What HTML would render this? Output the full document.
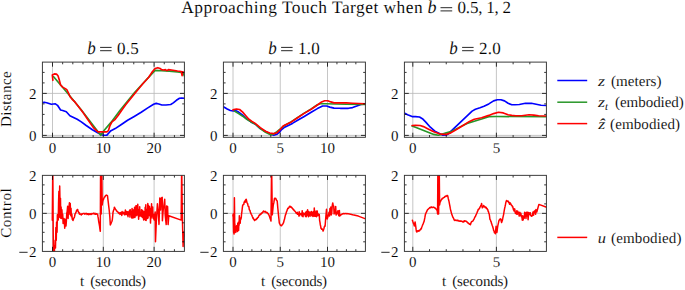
<!DOCTYPE html><html><head><meta charset="utf-8"><style>html,body{margin:0;padding:0;background:#fff;}svg{display:block;}text{font-family:"Liberation Serif",serif;fill:#000;text-rendering:geometricPrecision;stroke:#fff;stroke-width:0.1px;}</style></head><body>
<svg width="685" height="290" viewBox="0 0 685 290">
<rect width="685" height="290" fill="#fff"/>
<clipPath id="ct0"><rect x="42.4" y="62.1" width="142.0" height="75.20000000000002"/></clipPath>
<clipPath id="cb0"><rect x="42.4" y="175.35" width="142.0" height="76.05000000000001"/></clipPath>
<clipPath id="ct1"><rect x="223.4" y="62.1" width="141.99999999999997" height="75.20000000000002"/></clipPath>
<clipPath id="cb1"><rect x="223.4" y="175.35" width="141.99999999999997" height="76.05000000000001"/></clipPath>
<clipPath id="ct2"><rect x="404.4" y="62.1" width="142.0" height="75.20000000000002"/></clipPath>
<clipPath id="cb2"><rect x="404.4" y="175.35" width="142.0" height="76.05000000000001"/></clipPath>
<line x1="52.50" y1="62.1" x2="52.50" y2="137.3" stroke="#b8b8b8" stroke-width="0.8"/>
<line x1="103.30" y1="62.1" x2="103.30" y2="137.3" stroke="#b8b8b8" stroke-width="0.8"/>
<line x1="154.10" y1="62.1" x2="154.10" y2="137.3" stroke="#b8b8b8" stroke-width="0.8"/>
<line x1="42.4" y1="135.40" x2="184.4" y2="135.40" stroke="#b8b8b8" stroke-width="0.8"/>
<line x1="42.4" y1="93.40" x2="184.4" y2="93.40" stroke="#b8b8b8" stroke-width="0.8"/>
<line x1="52.50" y1="175.35" x2="52.50" y2="251.4" stroke="#b8b8b8" stroke-width="0.8"/>
<line x1="103.30" y1="175.35" x2="103.30" y2="251.4" stroke="#b8b8b8" stroke-width="0.8"/>
<line x1="154.10" y1="175.35" x2="154.10" y2="251.4" stroke="#b8b8b8" stroke-width="0.8"/>
<line x1="42.4" y1="213.35" x2="184.4" y2="213.35" stroke="#b8b8b8" stroke-width="0.8"/>
<line x1="233.00" y1="62.1" x2="233.00" y2="137.3" stroke="#b8b8b8" stroke-width="0.8"/>
<line x1="280.25" y1="62.1" x2="280.25" y2="137.3" stroke="#b8b8b8" stroke-width="0.8"/>
<line x1="327.50" y1="62.1" x2="327.50" y2="137.3" stroke="#b8b8b8" stroke-width="0.8"/>
<line x1="223.4" y1="135.40" x2="365.4" y2="135.40" stroke="#b8b8b8" stroke-width="0.8"/>
<line x1="223.4" y1="93.40" x2="365.4" y2="93.40" stroke="#b8b8b8" stroke-width="0.8"/>
<line x1="233.00" y1="175.35" x2="233.00" y2="251.4" stroke="#b8b8b8" stroke-width="0.8"/>
<line x1="280.25" y1="175.35" x2="280.25" y2="251.4" stroke="#b8b8b8" stroke-width="0.8"/>
<line x1="327.50" y1="175.35" x2="327.50" y2="251.4" stroke="#b8b8b8" stroke-width="0.8"/>
<line x1="223.4" y1="213.35" x2="365.4" y2="213.35" stroke="#b8b8b8" stroke-width="0.8"/>
<line x1="412.80" y1="62.1" x2="412.80" y2="137.3" stroke="#b8b8b8" stroke-width="0.8"/>
<line x1="496.40" y1="62.1" x2="496.40" y2="137.3" stroke="#b8b8b8" stroke-width="0.8"/>
<line x1="404.4" y1="135.40" x2="546.4" y2="135.40" stroke="#b8b8b8" stroke-width="0.8"/>
<line x1="404.4" y1="93.40" x2="546.4" y2="93.40" stroke="#b8b8b8" stroke-width="0.8"/>
<line x1="412.80" y1="175.35" x2="412.80" y2="251.4" stroke="#b8b8b8" stroke-width="0.8"/>
<line x1="496.40" y1="175.35" x2="496.40" y2="251.4" stroke="#b8b8b8" stroke-width="0.8"/>
<line x1="404.4" y1="213.35" x2="546.4" y2="213.35" stroke="#b8b8b8" stroke-width="0.8"/>
<polyline clip-path="url(#ct0)" points="42.40,102.80 44.10,102.20 46.70,102.80 51.30,104.30 55.40,103.80 57.50,105.30 60.60,110.00 62.70,110.50 66.30,111.80 69.90,115.70 73.00,117.20 77.20,119.30 81.30,121.90 86.20,125.50 92.40,129.70 98.60,133.30 101.70,134.80 103.80,135.30 106.90,135.10 109.50,132.20 111.00,130.70 115.20,128.60 121.40,124.50 127.60,120.30 133.80,116.70 141.20,112.20 147.40,108.10 153.60,104.30 156.20,103.40 158.80,104.00 161.90,105.00 166.00,105.00 170.70,104.50 173.30,102.90 176.40,100.30 179.50,98.30 181.50,98.00 184.60,98.30" fill="none" stroke="#0000ff" stroke-width="1.65" stroke-linejoin="round" stroke-linecap="round"/>
<polyline clip-path="url(#ct0)" points="53.60,76.70 68.90,94.80 81.00,109.50 100.70,135.30 103.80,130.70 111.00,122.40 120.30,110.00 134.80,92.20 155.10,70.40 161.60,70.70 169.20,71.10 177.50,71.90 182.80,72.60 184.40,76.00" fill="none" stroke="#289628" stroke-width="1.65" stroke-linejoin="round" stroke-linecap="round"/>
<polyline clip-path="url(#ct0)" points="52.90,80.30 52.30,75.00 54.40,73.90 56.50,74.10 58.00,75.70 59.10,79.30 60.60,85.00 62.70,87.10 65.30,88.60 66.80,89.70 68.40,92.80 69.90,96.40 72.00,99.10 75.10,102.20 83.40,113.10 88.30,120.30 93.40,127.60 97.60,131.70 98.60,131.90 106.90,131.90 108.40,130.70 110.00,125.50 112.00,121.90 115.20,119.30 118.30,115.20 121.90,110.00 125.50,105.00 134.80,93.60 142.60,84.00 148.70,77.20 151.70,72.60 155.10,68.50 157.80,67.70 160.10,68.50 161.60,69.60 163.90,70.00 165.40,69.60 166.90,70.70 168.40,69.60 173.00,70.20 177.50,71.00 181.30,71.50 182.10,75.70 182.50,71.80 183.60,72.30 184.60,72.50" fill="none" stroke="#ff0000" stroke-width="1.65" stroke-linejoin="round" stroke-linecap="round"/>
<polyline clip-path="url(#ct1)" points="223.40,106.70 227.20,109.00 230.30,110.50 233.40,111.00 235.40,110.50 238.60,112.10 242.70,115.20 246.80,118.80 251.00,121.90 255.10,124.00 260.30,128.60 265.50,131.50 270.70,134.30 273.80,135.30 276.90,134.30 279.50,132.20 281.00,130.20 284.10,127.60 288.30,125.50 292.40,123.40 297.60,120.30 303.80,116.70 311.20,112.20 317.40,108.60 322.60,106.00 326.70,106.00 329.80,107.10 334.00,108.10 340.20,108.30 348.50,108.30 352.60,107.60 356.80,106.00 360.90,104.50 365.60,104.00" fill="none" stroke="#0000ff" stroke-width="1.65" stroke-linejoin="round" stroke-linecap="round"/>
<polyline clip-path="url(#ct1)" points="234.40,111.00 238.60,113.60 242.70,116.20 246.80,119.30 251.00,121.90 255.10,124.00 260.30,128.60 265.50,132.20 270.70,134.80 273.80,134.00 276.90,131.70 281.00,128.40 284.10,125.80 291.40,121.60 303.80,113.40 311.20,108.90 317.40,104.80 320.50,103.80 325.70,103.70 336.00,104.00 346.40,104.20 365.60,104.50" fill="none" stroke="#289628" stroke-width="1.65" stroke-linejoin="round" stroke-linecap="round"/>
<polyline clip-path="url(#ct1)" points="232.90,110.00 233.90,109.50 236.50,109.00 239.60,109.50 242.70,112.10 245.80,115.70 248.90,119.30 252.00,121.40 255.20,123.40 260.30,127.60 265.50,131.20 269.70,133.00 273.80,133.60 276.90,132.80 280.00,129.70 283.10,126.00 287.20,124.00 291.40,121.90 297.60,117.80 303.80,113.60 311.20,109.20 317.40,105.00 321.60,101.90 324.70,100.70 327.80,100.70 330.90,101.90 334.00,102.90 339.20,102.90 346.40,102.90 352.60,103.20 358.80,103.50 365.60,103.80" fill="none" stroke="#ff0000" stroke-width="1.65" stroke-linejoin="round" stroke-linecap="round"/>
<polyline clip-path="url(#ct2)" points="404.20,113.00 407.60,114.70 412.10,116.60 415.50,116.60 419.50,117.00 422.40,118.70 425.80,122.10 430.30,127.20 434.90,131.20 439.40,133.50 442.90,135.20 446.30,134.90 448.20,133.90 472.10,111.10 475.40,109.20 480.00,107.80 484.00,106.30 488.80,103.90 493.60,100.90 497.30,99.70 500.90,99.70 504.50,100.90 508.10,103.30 511.80,104.70 515.00,104.70 519.30,104.50 525.40,103.30 531.40,103.30 536.20,104.30 541.10,105.30 546.60,105.50" fill="none" stroke="#0000ff" stroke-width="1.65" stroke-linejoin="round" stroke-linecap="round"/>
<polyline clip-path="url(#ct2)" points="412.10,126.10 416.70,127.80 422.40,130.10 428.10,132.30 433.80,134.40 438.30,135.20 441.70,134.40 446.30,132.90 452.00,131.20 457.70,128.30 463.00,125.40 467.10,123.40 474.30,121.20 481.60,119.00 488.80,116.60 496.10,116.50 546.60,116.70" fill="none" stroke="#289628" stroke-width="1.65" stroke-linejoin="round" stroke-linecap="round"/>
<polyline clip-path="url(#ct2)" points="412.10,125.50 415.50,125.30 420.10,125.50 423.50,126.60 428.10,128.90 433.80,131.80 439.40,133.70 442.90,134.40 446.30,134.40 450.80,132.90 456.50,129.50 463.00,125.50 469.50,121.40 474.30,119.20 481.60,117.80 488.80,115.40 493.60,113.60 498.50,112.30 503.30,112.90 508.10,114.80 511.80,115.40 515.70,115.70 521.70,115.70 529.00,114.80 533.80,115.10 538.60,115.70 546.60,116.00" fill="none" stroke="#ff0000" stroke-width="1.65" stroke-linejoin="round" stroke-linecap="round"/>
<polyline clip-path="url(#cb0)" points="52.30,220.30 52.80,165.00 53.40,262.00 54.40,262.00 54.50,245.66 54.82,246.98 55.11,240.26 55.48,248.03 55.88,227.42 56.27,240.25 56.57,221.94 57.05,232.24 57.38,214.72 57.89,218.35 58.26,219.97 58.55,203.17 58.90,191.36 59.21,217.61 59.69,186.08 60.11,207.39 60.48,198.36 60.77,218.31 61.10,206.88 61.48,218.44 61.91,209.82 62.26,216.28 62.70,214.28 63.12,223.48 63.61,221.28 63.96,218.55 64.27,219.55 64.73,228.27 65.13,219.37 65.57,223.30 65.99,225.93 66.34,221.64 66.77,213.17 67.15,211.60 67.66,206.29 68.10,218.52 68.55,206.80 69.07,206.58 69.42,202.75 69.86,214.28 70.25,203.45 70.56,215.13 71.02,208.28 71.36,216.65 71.85,214.12 72.24,219.18 72.73,219.99 73.00,220.50 73.33,219.39 73.67,218.39 74.00,217.91 74.30,217.49 74.60,216.38 74.90,214.71 75.20,213.58 75.50,213.50 75.82,212.50 76.13,212.07 76.45,210.76 76.77,210.14 77.08,210.31 77.40,209.41 77.72,209.65 78.03,211.36 78.35,211.66 78.67,212.53 78.98,212.33 79.30,213.93 79.64,213.20 79.98,214.31 80.32,214.05 80.66,214.13 81.00,214.55 81.30,214.87 81.60,214.12 81.90,213.90 82.20,214.25 82.50,213.86 82.80,213.64 83.10,213.62 83.40,213.42 83.70,213.52 84.00,213.57 84.31,213.60 84.62,214.17 84.92,213.64 85.23,213.92 85.54,213.57 85.85,213.80 86.15,213.44 86.46,213.75 86.77,213.50 87.08,214.39 87.38,214.20 87.69,213.80 88.00,214.17 88.31,214.68 88.62,213.65 88.92,214.47 89.23,213.96 89.54,214.00 89.85,214.37 90.15,213.80 90.46,213.90 90.77,214.08 91.08,214.39 91.38,213.59 91.69,214.14 92.00,213.95 92.31,213.88 92.62,213.62 92.92,213.56 93.23,213.23 93.54,213.33 93.85,213.28 94.15,214.10 94.46,213.53 94.77,213.43 95.08,213.36 95.38,214.28 95.69,214.33 96.00,214.10 96.32,213.77 96.64,213.85 96.96,214.04 97.28,214.34 97.60,214.16 97.93,216.38 98.27,218.13 98.60,220.76 98.90,222.67 99.20,224.15 99.50,225.74 99.90,228.88 100.30,231.30 100.60,165.00 101.20,214.00 101.70,165.00 102.20,205.00 102.70,201.46 103.03,200.20 103.35,199.68 103.67,198.87 104.00,198.00 104.35,197.27 104.70,197.14 105.05,196.20 105.40,196.03 105.75,195.42 106.10,195.30 106.45,195.09 106.80,195.22 107.15,195.65 107.50,195.73 107.85,198.89 108.20,201.63 108.53,204.65 108.87,207.36 109.20,210.22 109.80,216.38 110.30,224.99 110.63,224.06 110.97,223.85 111.30,222.15 111.63,221.99 111.97,221.18 112.30,219.84 112.65,216.49 113.00,212.39 113.35,211.00 113.70,209.98 114.05,208.94 114.40,207.14 114.70,207.92 115.00,208.30 115.30,209.03 115.60,209.40 115.90,209.83 116.22,210.07 116.53,210.89 116.85,211.15 117.17,211.65 117.48,211.60 117.80,211.84 118.10,212.26 118.40,212.83 118.60,212.80 118.88,213.46 119.25,212.98 119.49,213.20 119.74,212.94 120.04,214.39 120.30,212.74 120.58,213.68 120.89,212.55 121.23,214.13 121.55,212.22 121.77,215.55 122.12,211.57 122.47,213.74 122.76,212.45 123.08,212.78 123.30,212.23 123.54,213.69 123.76,212.72 124.00,213.00 124.27,212.73 124.64,214.80 124.88,212.04 125.15,214.00 125.38,210.11 125.77,214.49 126.07,212.85 126.30,214.14 126.55,211.38 126.79,213.14 127.17,211.92 127.41,215.16 127.63,211.83 128.01,216.75 128.35,212.55 128.62,213.84 128.97,211.52 129.32,214.59 129.57,210.13 129.96,217.12 130.31,209.80 130.66,214.33 130.96,212.02 131.18,213.65 131.44,212.48 131.77,217.97 132.06,208.38 132.45,218.08 132.73,212.67 132.98,214.49 133.22,210.07 133.59,217.69 133.89,209.70 134.25,214.19 134.57,207.30 134.92,217.44 135.22,212.92 135.57,215.42 135.93,205.73 136.21,215.82 136.59,207.78 136.83,214.64 137.07,205.58 137.42,214.78 137.78,204.19 138.11,215.79 138.42,213.34 138.63,219.14 138.96,209.61 139.34,216.34 139.70,206.84 139.95,215.52 140.21,212.74 140.53,215.66 140.81,213.74 141.19,216.28 141.48,209.69 141.85,216.81 142.23,210.13 142.53,217.61 142.75,210.57 142.99,214.81 143.34,213.30 143.64,219.88 143.95,211.84 144.25,219.13 144.60,214.17 144.91,216.88 145.17,207.37 145.48,220.32 145.82,204.85 146.11,220.59 146.41,209.35 146.75,218.06 147.05,209.58 147.43,218.47 147.80,203.57 148.06,218.03 148.44,205.28 148.67,215.61 148.96,214.43 149.22,215.39 149.55,206.49 149.92,216.05 150.26,208.14 150.49,223.10 150.88,213.04 151.26,217.89 151.56,203.78 151.92,215.91 152.20,209.63 152.47,216.03 152.74,207.00 152.95,218.07 153.24,214.88 153.51,218.64 153.82,214.52 154.20,220.02 154.59,214.27 154.85,215.17 155.20,212.00 155.50,241.70 156.30,222.00 157.40,203.70 158.30,213.00 159.00,224.40 159.80,197.90 160.60,210.00 161.30,198.00 162.20,197.40 162.40,220.80 163.20,210.00 164.70,199.30 165.20,215.00 166.20,224.60 166.60,206.00 167.60,206.60 168.10,224.60 168.80,215.70 181.20,220.10 181.70,165.00 182.30,214.00 182.70,230.50 183.10,246.50 183.60,232.00 184.60,236.00" fill="none" stroke="#ff0000" stroke-width="1.5" stroke-linejoin="round" stroke-linecap="round"/>
<polyline clip-path="url(#cb1)" points="232.90,216.00 233.20,214.00 233.60,232.00 234.10,234.00 234.40,197.80 234.70,222.00 234.20,233.00 234.20,220.14 234.56,229.06 234.88,223.69 235.22,231.54 235.43,229.19 235.77,232.39 236.08,228.61 236.30,230.42 236.55,225.83 236.81,230.11 237.06,229.13 237.45,231.48 237.72,223.27 238.06,225.09 238.38,222.17 238.60,230.42 238.86,222.69 239.12,225.13 239.33,215.72 239.59,223.23 239.93,221.78 240.19,223.19 240.48,218.34 240.72,217.78 240.96,219.03 241.34,217.07 241.50,214.50 241.90,211.59 242.30,208.14 242.70,205.19 243.10,204.72 243.50,204.36 243.82,204.39 244.15,202.02 244.48,201.97 244.80,200.97 245.15,202.29 245.50,200.11 245.85,199.56 246.20,199.23 246.55,200.67 246.90,202.48 247.25,203.14 247.60,203.51 247.93,205.19 248.27,206.16 248.60,206.13 248.93,207.03 249.27,209.49 249.60,210.29 249.95,210.20 250.30,212.06 250.65,212.69 251.00,213.67 251.30,214.28 251.60,214.78 251.90,215.28 252.20,216.18 252.50,216.88 252.83,217.91 253.17,217.80 253.50,219.02 253.83,218.97 254.17,219.64 254.50,220.56 254.80,220.40 255.10,219.93 255.40,219.46 255.70,219.64 256.00,219.40 256.32,219.50 256.63,218.59 256.95,218.39 257.27,218.48 257.58,217.46 257.90,217.43 258.20,217.32 258.50,216.86 258.80,215.85 259.10,215.41 259.40,215.01 259.70,215.26 260.00,214.31 260.33,214.45 260.67,214.32 261.00,213.62 261.33,213.32 261.67,213.62 262.00,213.09 262.35,212.38 262.70,212.32 263.05,211.58 263.40,211.12 263.70,210.97 264.00,211.65 264.30,211.85 264.60,211.69 264.90,212.01 265.20,211.35 265.50,211.59 265.83,211.98 266.17,212.57 266.50,212.76 266.83,212.51 267.17,212.60 267.50,212.94 267.80,213.35 268.10,214.06 268.40,213.83 268.70,214.68 269.00,214.99 269.32,216.11 269.65,217.12 269.98,218.04 270.30,218.86 270.65,219.93 271.00,221.00 271.60,165.00 272.30,214.80 272.75,210.54 273.20,205.58 273.52,203.92 273.85,202.70 274.18,200.42 274.50,198.46 274.85,198.26 275.20,198.60 275.55,198.20 275.90,198.68 276.22,199.43 276.55,200.39 276.88,200.51 277.20,201.18 277.50,204.40 277.80,208.00 278.40,214.17 278.70,216.96 279.00,219.79 279.30,222.93 279.67,223.76 280.03,224.47 280.40,225.20 280.73,225.54 281.07,225.66 281.40,225.50 281.70,225.67 282.00,224.84 282.30,224.65 282.60,224.10 282.90,223.99 283.20,223.16 283.50,222.80 283.83,221.46 284.17,220.06 284.50,219.31 284.83,217.66 285.17,216.06 285.50,214.72 285.83,214.23 286.17,212.87 286.50,211.69 286.83,211.18 287.17,210.09 287.50,209.39 287.81,208.32 288.13,208.27 288.44,208.18 288.76,207.84 289.07,207.55 289.39,206.49 289.70,206.33 290.02,206.27 290.35,206.40 290.68,207.10 291.00,206.87 291.33,207.48 291.67,207.36 292.00,208.09 292.30,208.11 292.60,208.31 292.90,209.07 293.20,209.56 293.50,209.23 293.80,209.98 294.13,210.46 294.47,210.61 294.80,211.19 295.14,211.42 295.48,211.88 295.82,212.33 296.16,213.08 296.50,213.55 296.90,213.15 297.30,213.01 297.30,212.30 297.68,214.24 297.94,213.38 298.32,213.77 298.64,213.47 298.94,216.04 299.18,211.64 299.48,215.84 299.81,213.33 300.19,214.51 300.40,213.65 300.70,214.45 300.96,213.53 301.23,214.14 301.60,213.70 301.94,215.91 302.17,210.67 302.51,216.24 302.77,213.03 303.05,216.75 303.37,213.07 303.66,214.18 303.88,213.71 304.24,214.24 304.61,213.42 304.87,214.92 305.12,213.06 305.50,216.41 305.85,211.97 306.23,216.63 306.54,211.40 306.76,215.72 307.05,211.11 307.37,214.35 307.59,209.84 307.83,214.83 308.10,213.29 308.44,216.65 308.70,211.43 308.96,215.08 309.24,213.74 309.48,214.27 309.85,212.26 310.10,216.26 310.49,212.46 310.73,214.29 310.96,213.01 311.18,214.37 311.44,211.50 311.81,215.64 312.09,212.49 312.40,214.67 312.67,214.11 312.93,216.44 313.16,211.69 313.48,216.10 313.73,213.33 313.99,214.80 314.28,208.05 314.64,216.21 314.85,214.27 315.19,216.32 315.49,212.06 315.70,214.87 316.07,210.96 316.44,216.68 316.69,214.25 316.93,215.25 317.26,211.11 317.60,215.64 317.95,213.54 318.26,214.45 318.61,214.21 318.99,215.71 319.25,214.41 319.60,220.30 319.95,222.15 320.30,224.70 320.65,226.05 321.00,228.30 321.33,228.26 321.67,229.34 322.00,229.08 322.37,229.07 322.73,229.90 323.10,231.13 323.55,229.73 324.00,228.22 324.37,226.61 324.73,226.00 325.10,226.11 325.45,221.54 325.80,217.33 326.15,213.27 326.50,209.20 327.20,218.90 328.60,214.80 329.00,212.19 329.56,215.91 329.93,208.60 330.46,214.39 330.87,207.06 331.23,214.89 331.71,213.52 332.26,205.63 332.75,202.98 333.17,205.39 333.74,206.11 334.09,213.97 334.64,210.30 335.07,213.11 335.70,206.44 336.06,215.06 336.54,212.50 336.94,214.07 337.52,212.07 337.93,210.65 338.37,213.03 338.79,215.70 339.37,210.41 339.70,216.10 340.03,215.75 340.37,215.44 340.70,215.07 341.03,214.74 341.37,214.55 341.70,214.30 342.03,213.97 342.36,213.84 342.69,213.98 343.01,213.70 343.34,213.55 343.67,213.83 344.00,213.57 344.32,213.74 344.64,213.58 344.96,213.78 345.28,213.62 345.60,213.52 345.92,213.47 346.24,213.69 346.56,213.74 346.88,213.85 347.20,213.54 347.51,213.79 347.82,213.74 348.13,213.83 348.44,213.77 348.76,213.86 349.07,213.97 349.38,214.12 349.69,213.97 350.00,214.10 350.31,214.23 350.62,214.33 350.93,214.29 351.24,214.37 351.56,214.53 351.87,214.60 352.18,214.64 352.49,214.71 352.80,214.80 358.30,216.10 365.60,218.90" fill="none" stroke="#ff0000" stroke-width="1.5" stroke-linejoin="round" stroke-linecap="round"/>
<polyline clip-path="url(#cb2)" points="412.40,220.30 412.70,221.28 413.00,221.97 413.30,223.17 413.67,223.70 414.03,224.89 414.40,225.88 414.75,223.67 415.10,221.92 415.45,224.31 415.80,226.91 416.15,229.71 416.50,231.68 416.85,232.04 417.20,231.40 417.55,230.87 417.90,230.84 418.27,230.55 418.63,231.26 419.00,231.06 419.33,230.55 419.67,230.55 420.00,229.95 420.32,229.39 420.65,229.49 420.98,228.59 421.30,228.86 421.70,227.22 422.10,226.29 422.50,225.29 422.82,224.39 423.14,223.78 423.46,222.91 423.78,222.06 424.10,221.42 424.45,219.56 424.80,217.92 425.15,215.88 425.50,214.01 425.80,213.65 426.10,212.61 426.40,212.08 426.70,211.75 427.00,210.78 427.30,210.19 427.60,209.81 427.93,209.31 428.27,209.11 428.60,208.68 428.93,208.55 429.27,208.20 429.60,207.62 429.92,207.77 430.23,207.58 430.55,207.28 430.87,207.66 431.18,207.15 431.50,206.99 431.83,206.99 432.16,207.34 432.49,207.51 432.81,207.48 433.14,207.28 433.47,207.23 433.80,207.11 434.13,207.67 434.47,207.80 434.80,207.86 435.13,208.22 435.47,208.28 435.80,208.76 436.15,209.17 436.50,209.40 436.85,210.32 437.20,210.33 437.60,214.00 437.90,165.00 438.60,214.00 439.20,165.00 439.60,205.00 440.00,202.30 440.33,201.75 440.67,201.11 441.00,200.44 441.33,199.77 441.67,199.63 442.00,198.61 442.31,198.70 442.62,198.70 442.93,197.99 443.24,197.79 443.56,197.80 443.87,197.50 444.18,197.35 444.49,197.22 444.80,196.60 445.11,196.53 445.42,196.37 445.73,196.06 446.04,196.41 446.36,196.19 446.67,196.00 446.98,195.41 447.29,195.76 447.60,195.55 447.95,196.93 448.30,198.65 448.65,200.02 449.00,201.44 449.32,203.09 449.65,204.89 449.98,206.50 450.30,208.40 450.65,210.02 451.00,211.37 451.35,212.83 451.70,214.13 452.05,214.91 452.40,216.13 452.70,216.66 453.00,217.47 453.30,217.91 453.60,218.36 453.90,219.19 454.20,219.98 454.50,220.13 454.84,220.53 455.18,220.01 455.51,220.16 455.85,220.14 456.19,220.45 456.52,220.57 456.86,220.45 457.20,220.20 457.50,220.62 457.80,220.35 458.10,220.37 458.40,220.93 458.70,220.82 459.00,220.95 459.34,220.96 459.69,221.24 460.03,220.86 460.37,221.19 460.71,221.10 461.06,221.26 461.40,220.95 461.72,221.38 462.04,221.46 462.36,221.45 462.68,221.57 463.00,222.10 463.30,221.46 463.60,221.93 463.90,221.12 464.20,220.82 464.50,220.69 464.84,221.44 465.19,221.08 465.53,221.01 465.87,221.02 466.21,221.13 466.56,221.75 466.90,221.81 467.27,222.29 467.63,222.76 468.00,222.65 468.34,223.27 468.69,223.29 469.03,223.85 469.37,224.06 469.71,224.31 470.06,223.85 470.40,224.69 470.80,223.53 471.20,222.36 471.60,221.59 472.00,221.56 472.40,221.39 472.71,220.79 473.02,220.87 473.33,220.30 473.64,219.62 473.96,219.20 474.27,218.52 474.58,217.75 474.89,217.10 475.20,216.56 475.52,216.27 475.84,215.26 476.16,214.65 476.48,214.03 476.80,213.11 477.12,212.37 477.45,211.50 477.78,210.94 478.10,209.79 478.45,209.28 478.80,209.37 479.15,208.50 479.50,208.36 479.85,207.68 480.20,206.63 480.55,206.16 480.90,205.34 481.25,204.82 481.60,203.55 481.95,205.95 482.30,207.84 482.70,206.92 483.10,206.96 483.50,205.59 483.80,206.54 484.10,206.11 484.40,206.16 484.70,206.58 485.00,207.36 485.35,207.75 485.70,206.95 486.05,207.62 486.40,207.79 486.75,208.62 487.10,208.53 487.45,209.37 487.80,209.75 488.15,211.24 488.50,211.73 488.85,213.35 489.20,213.83 489.55,216.22 489.90,219.06 490.20,219.68 490.50,220.14 490.80,221.38 491.10,221.66 491.40,223.10 491.70,223.81 492.00,224.69 492.33,225.68 492.67,226.55 493.00,227.74 493.33,228.88 493.67,230.61 494.00,230.80 494.40,232.65 494.80,232.34 495.40,233.69 495.75,229.62 496.10,226.36 496.45,229.25 496.80,232.53 497.13,231.00 497.47,227.86 497.80,225.95 498.17,224.14 498.53,222.56 498.90,220.65 499.23,220.27 499.57,219.62 499.90,219.36 500.23,218.88 500.57,219.61 500.90,219.13 501.25,221.29 501.60,222.54 501.95,221.54 502.30,220.61 502.65,218.97 503.00,217.05 503.35,215.56 503.70,214.12 504.05,211.52 504.40,209.59 504.77,207.72 505.13,206.20 505.50,204.41 505.83,202.53 506.17,201.47 506.50,200.55 506.83,200.85 507.17,201.33 507.50,200.96 507.83,201.26 508.17,201.07 508.50,202.36 508.83,202.60 509.17,202.23 509.50,204.24 509.87,202.70 510.23,202.98 510.60,203.77 511.05,204.47 511.50,205.37 511.80,205.42 512.10,205.56 512.40,206.80 512.70,206.47 513.10,208.08 513.50,209.82 513.50,208.54 514.12,211.05 514.72,208.87 515.30,213.16 515.78,212.20 516.37,214.01 516.79,210.85 517.30,214.27 517.68,211.14 518.25,212.49 518.61,212.74 519.19,216.02 519.79,212.31 520.32,215.53 520.86,213.24 521.33,216.67 521.81,215.92 522.30,220.21 522.65,215.79 523.15,219.90 523.73,216.24 524.22,218.30 524.71,212.18 525.10,216.17 525.47,213.04 525.98,218.46 526.52,212.22 527.09,215.94 527.59,212.33 528.09,219.76 528.73,212.54 529.34,212.86 529.91,214.63 530.31,212.85 530.81,215.58 531.44,216.30 532.02,215.52 532.39,215.76 532.97,212.05 533.59,215.12 534.18,211.22 534.68,211.60 535.10,210.53 535.60,214.18 535.96,209.59 536.36,210.37 536.80,212.00 538.90,204.40 546.60,207.30" fill="none" stroke="#ff0000" stroke-width="1.5" stroke-linejoin="round" stroke-linecap="round"/>
<line x1="52.50" y1="137.3" x2="52.50" y2="132.70000000000002" stroke="#000" stroke-width="0.8"/>
<line x1="52.50" y1="62.1" x2="52.50" y2="66.7" stroke="#000" stroke-width="0.8"/>
<line x1="62.66" y1="137.3" x2="62.66" y2="135.10000000000002" stroke="#000" stroke-width="0.8"/>
<line x1="62.66" y1="62.1" x2="62.66" y2="64.3" stroke="#000" stroke-width="0.8"/>
<line x1="72.82" y1="137.3" x2="72.82" y2="135.10000000000002" stroke="#000" stroke-width="0.8"/>
<line x1="72.82" y1="62.1" x2="72.82" y2="64.3" stroke="#000" stroke-width="0.8"/>
<line x1="82.98" y1="137.3" x2="82.98" y2="135.10000000000002" stroke="#000" stroke-width="0.8"/>
<line x1="82.98" y1="62.1" x2="82.98" y2="64.3" stroke="#000" stroke-width="0.8"/>
<line x1="93.14" y1="137.3" x2="93.14" y2="135.10000000000002" stroke="#000" stroke-width="0.8"/>
<line x1="93.14" y1="62.1" x2="93.14" y2="64.3" stroke="#000" stroke-width="0.8"/>
<line x1="103.30" y1="137.3" x2="103.30" y2="132.70000000000002" stroke="#000" stroke-width="0.8"/>
<line x1="103.30" y1="62.1" x2="103.30" y2="66.7" stroke="#000" stroke-width="0.8"/>
<line x1="113.46" y1="137.3" x2="113.46" y2="135.10000000000002" stroke="#000" stroke-width="0.8"/>
<line x1="113.46" y1="62.1" x2="113.46" y2="64.3" stroke="#000" stroke-width="0.8"/>
<line x1="123.62" y1="137.3" x2="123.62" y2="135.10000000000002" stroke="#000" stroke-width="0.8"/>
<line x1="123.62" y1="62.1" x2="123.62" y2="64.3" stroke="#000" stroke-width="0.8"/>
<line x1="133.78" y1="137.3" x2="133.78" y2="135.10000000000002" stroke="#000" stroke-width="0.8"/>
<line x1="133.78" y1="62.1" x2="133.78" y2="64.3" stroke="#000" stroke-width="0.8"/>
<line x1="143.94" y1="137.3" x2="143.94" y2="135.10000000000002" stroke="#000" stroke-width="0.8"/>
<line x1="143.94" y1="62.1" x2="143.94" y2="64.3" stroke="#000" stroke-width="0.8"/>
<line x1="154.10" y1="137.3" x2="154.10" y2="132.70000000000002" stroke="#000" stroke-width="0.8"/>
<line x1="154.10" y1="62.1" x2="154.10" y2="66.7" stroke="#000" stroke-width="0.8"/>
<line x1="164.26" y1="137.3" x2="164.26" y2="135.10000000000002" stroke="#000" stroke-width="0.8"/>
<line x1="164.26" y1="62.1" x2="164.26" y2="64.3" stroke="#000" stroke-width="0.8"/>
<line x1="174.42" y1="137.3" x2="174.42" y2="135.10000000000002" stroke="#000" stroke-width="0.8"/>
<line x1="174.42" y1="62.1" x2="174.42" y2="64.3" stroke="#000" stroke-width="0.8"/>
<line x1="42.4" y1="135.40" x2="46.8" y2="135.40" stroke="#000" stroke-width="0.8"/>
<line x1="184.4" y1="135.40" x2="180.0" y2="135.40" stroke="#000" stroke-width="0.8"/>
<line x1="42.4" y1="124.90" x2="44.6" y2="124.90" stroke="#000" stroke-width="0.8"/>
<line x1="184.4" y1="124.90" x2="182.20000000000002" y2="124.90" stroke="#000" stroke-width="0.8"/>
<line x1="42.4" y1="114.40" x2="44.6" y2="114.40" stroke="#000" stroke-width="0.8"/>
<line x1="184.4" y1="114.40" x2="182.20000000000002" y2="114.40" stroke="#000" stroke-width="0.8"/>
<line x1="42.4" y1="103.90" x2="44.6" y2="103.90" stroke="#000" stroke-width="0.8"/>
<line x1="184.4" y1="103.90" x2="182.20000000000002" y2="103.90" stroke="#000" stroke-width="0.8"/>
<line x1="42.4" y1="93.40" x2="46.8" y2="93.40" stroke="#000" stroke-width="0.8"/>
<line x1="184.4" y1="93.40" x2="180.0" y2="93.40" stroke="#000" stroke-width="0.8"/>
<line x1="42.4" y1="82.90" x2="44.6" y2="82.90" stroke="#000" stroke-width="0.8"/>
<line x1="184.4" y1="82.90" x2="182.20000000000002" y2="82.90" stroke="#000" stroke-width="0.8"/>
<line x1="42.4" y1="72.40" x2="44.6" y2="72.40" stroke="#000" stroke-width="0.8"/>
<line x1="184.4" y1="72.40" x2="182.20000000000002" y2="72.40" stroke="#000" stroke-width="0.8"/>
<rect x="42.4" y="62.1" width="142.00" height="75.20" fill="none" stroke="#333" stroke-width="0.95"/>
<line x1="52.50" y1="251.4" x2="52.50" y2="246.8" stroke="#000" stroke-width="0.8"/>
<line x1="52.50" y1="175.35" x2="52.50" y2="179.95" stroke="#000" stroke-width="0.8"/>
<line x1="62.66" y1="251.4" x2="62.66" y2="249.20000000000002" stroke="#000" stroke-width="0.8"/>
<line x1="62.66" y1="175.35" x2="62.66" y2="177.54999999999998" stroke="#000" stroke-width="0.8"/>
<line x1="72.82" y1="251.4" x2="72.82" y2="249.20000000000002" stroke="#000" stroke-width="0.8"/>
<line x1="72.82" y1="175.35" x2="72.82" y2="177.54999999999998" stroke="#000" stroke-width="0.8"/>
<line x1="82.98" y1="251.4" x2="82.98" y2="249.20000000000002" stroke="#000" stroke-width="0.8"/>
<line x1="82.98" y1="175.35" x2="82.98" y2="177.54999999999998" stroke="#000" stroke-width="0.8"/>
<line x1="93.14" y1="251.4" x2="93.14" y2="249.20000000000002" stroke="#000" stroke-width="0.8"/>
<line x1="93.14" y1="175.35" x2="93.14" y2="177.54999999999998" stroke="#000" stroke-width="0.8"/>
<line x1="103.30" y1="251.4" x2="103.30" y2="246.8" stroke="#000" stroke-width="0.8"/>
<line x1="103.30" y1="175.35" x2="103.30" y2="179.95" stroke="#000" stroke-width="0.8"/>
<line x1="113.46" y1="251.4" x2="113.46" y2="249.20000000000002" stroke="#000" stroke-width="0.8"/>
<line x1="113.46" y1="175.35" x2="113.46" y2="177.54999999999998" stroke="#000" stroke-width="0.8"/>
<line x1="123.62" y1="251.4" x2="123.62" y2="249.20000000000002" stroke="#000" stroke-width="0.8"/>
<line x1="123.62" y1="175.35" x2="123.62" y2="177.54999999999998" stroke="#000" stroke-width="0.8"/>
<line x1="133.78" y1="251.4" x2="133.78" y2="249.20000000000002" stroke="#000" stroke-width="0.8"/>
<line x1="133.78" y1="175.35" x2="133.78" y2="177.54999999999998" stroke="#000" stroke-width="0.8"/>
<line x1="143.94" y1="251.4" x2="143.94" y2="249.20000000000002" stroke="#000" stroke-width="0.8"/>
<line x1="143.94" y1="175.35" x2="143.94" y2="177.54999999999998" stroke="#000" stroke-width="0.8"/>
<line x1="154.10" y1="251.4" x2="154.10" y2="246.8" stroke="#000" stroke-width="0.8"/>
<line x1="154.10" y1="175.35" x2="154.10" y2="179.95" stroke="#000" stroke-width="0.8"/>
<line x1="164.26" y1="251.4" x2="164.26" y2="249.20000000000002" stroke="#000" stroke-width="0.8"/>
<line x1="164.26" y1="175.35" x2="164.26" y2="177.54999999999998" stroke="#000" stroke-width="0.8"/>
<line x1="174.42" y1="251.4" x2="174.42" y2="249.20000000000002" stroke="#000" stroke-width="0.8"/>
<line x1="174.42" y1="175.35" x2="174.42" y2="177.54999999999998" stroke="#000" stroke-width="0.8"/>
<line x1="42.4" y1="241.81" x2="44.6" y2="241.81" stroke="#000" stroke-width="0.8"/>
<line x1="184.4" y1="241.81" x2="182.20000000000002" y2="241.81" stroke="#000" stroke-width="0.8"/>
<line x1="42.4" y1="232.32" x2="44.6" y2="232.32" stroke="#000" stroke-width="0.8"/>
<line x1="184.4" y1="232.32" x2="182.20000000000002" y2="232.32" stroke="#000" stroke-width="0.8"/>
<line x1="42.4" y1="222.84" x2="44.6" y2="222.84" stroke="#000" stroke-width="0.8"/>
<line x1="184.4" y1="222.84" x2="182.20000000000002" y2="222.84" stroke="#000" stroke-width="0.8"/>
<line x1="42.4" y1="213.35" x2="46.8" y2="213.35" stroke="#000" stroke-width="0.8"/>
<line x1="184.4" y1="213.35" x2="180.0" y2="213.35" stroke="#000" stroke-width="0.8"/>
<line x1="42.4" y1="203.86" x2="44.6" y2="203.86" stroke="#000" stroke-width="0.8"/>
<line x1="184.4" y1="203.86" x2="182.20000000000002" y2="203.86" stroke="#000" stroke-width="0.8"/>
<line x1="42.4" y1="194.38" x2="44.6" y2="194.38" stroke="#000" stroke-width="0.8"/>
<line x1="184.4" y1="194.38" x2="182.20000000000002" y2="194.38" stroke="#000" stroke-width="0.8"/>
<line x1="42.4" y1="184.89" x2="44.6" y2="184.89" stroke="#000" stroke-width="0.8"/>
<line x1="184.4" y1="184.89" x2="182.20000000000002" y2="184.89" stroke="#000" stroke-width="0.8"/>
<rect x="42.4" y="175.35" width="142.00" height="76.05" fill="none" stroke="#333" stroke-width="0.95"/>
<line x1="233.00" y1="137.3" x2="233.00" y2="132.70000000000002" stroke="#000" stroke-width="0.8"/>
<line x1="233.00" y1="62.1" x2="233.00" y2="66.7" stroke="#000" stroke-width="0.8"/>
<line x1="242.45" y1="137.3" x2="242.45" y2="135.10000000000002" stroke="#000" stroke-width="0.8"/>
<line x1="242.45" y1="62.1" x2="242.45" y2="64.3" stroke="#000" stroke-width="0.8"/>
<line x1="251.90" y1="137.3" x2="251.90" y2="135.10000000000002" stroke="#000" stroke-width="0.8"/>
<line x1="251.90" y1="62.1" x2="251.90" y2="64.3" stroke="#000" stroke-width="0.8"/>
<line x1="261.35" y1="137.3" x2="261.35" y2="135.10000000000002" stroke="#000" stroke-width="0.8"/>
<line x1="261.35" y1="62.1" x2="261.35" y2="64.3" stroke="#000" stroke-width="0.8"/>
<line x1="270.80" y1="137.3" x2="270.80" y2="135.10000000000002" stroke="#000" stroke-width="0.8"/>
<line x1="270.80" y1="62.1" x2="270.80" y2="64.3" stroke="#000" stroke-width="0.8"/>
<line x1="280.25" y1="137.3" x2="280.25" y2="132.70000000000002" stroke="#000" stroke-width="0.8"/>
<line x1="280.25" y1="62.1" x2="280.25" y2="66.7" stroke="#000" stroke-width="0.8"/>
<line x1="289.70" y1="137.3" x2="289.70" y2="135.10000000000002" stroke="#000" stroke-width="0.8"/>
<line x1="289.70" y1="62.1" x2="289.70" y2="64.3" stroke="#000" stroke-width="0.8"/>
<line x1="299.15" y1="137.3" x2="299.15" y2="135.10000000000002" stroke="#000" stroke-width="0.8"/>
<line x1="299.15" y1="62.1" x2="299.15" y2="64.3" stroke="#000" stroke-width="0.8"/>
<line x1="308.60" y1="137.3" x2="308.60" y2="135.10000000000002" stroke="#000" stroke-width="0.8"/>
<line x1="308.60" y1="62.1" x2="308.60" y2="64.3" stroke="#000" stroke-width="0.8"/>
<line x1="318.05" y1="137.3" x2="318.05" y2="135.10000000000002" stroke="#000" stroke-width="0.8"/>
<line x1="318.05" y1="62.1" x2="318.05" y2="64.3" stroke="#000" stroke-width="0.8"/>
<line x1="327.50" y1="137.3" x2="327.50" y2="132.70000000000002" stroke="#000" stroke-width="0.8"/>
<line x1="327.50" y1="62.1" x2="327.50" y2="66.7" stroke="#000" stroke-width="0.8"/>
<line x1="336.95" y1="137.3" x2="336.95" y2="135.10000000000002" stroke="#000" stroke-width="0.8"/>
<line x1="336.95" y1="62.1" x2="336.95" y2="64.3" stroke="#000" stroke-width="0.8"/>
<line x1="346.40" y1="137.3" x2="346.40" y2="135.10000000000002" stroke="#000" stroke-width="0.8"/>
<line x1="346.40" y1="62.1" x2="346.40" y2="64.3" stroke="#000" stroke-width="0.8"/>
<line x1="355.85" y1="137.3" x2="355.85" y2="135.10000000000002" stroke="#000" stroke-width="0.8"/>
<line x1="355.85" y1="62.1" x2="355.85" y2="64.3" stroke="#000" stroke-width="0.8"/>
<line x1="223.4" y1="135.40" x2="227.8" y2="135.40" stroke="#000" stroke-width="0.8"/>
<line x1="365.4" y1="135.40" x2="361.0" y2="135.40" stroke="#000" stroke-width="0.8"/>
<line x1="223.4" y1="124.90" x2="225.6" y2="124.90" stroke="#000" stroke-width="0.8"/>
<line x1="365.4" y1="124.90" x2="363.2" y2="124.90" stroke="#000" stroke-width="0.8"/>
<line x1="223.4" y1="114.40" x2="225.6" y2="114.40" stroke="#000" stroke-width="0.8"/>
<line x1="365.4" y1="114.40" x2="363.2" y2="114.40" stroke="#000" stroke-width="0.8"/>
<line x1="223.4" y1="103.90" x2="225.6" y2="103.90" stroke="#000" stroke-width="0.8"/>
<line x1="365.4" y1="103.90" x2="363.2" y2="103.90" stroke="#000" stroke-width="0.8"/>
<line x1="223.4" y1="93.40" x2="227.8" y2="93.40" stroke="#000" stroke-width="0.8"/>
<line x1="365.4" y1="93.40" x2="361.0" y2="93.40" stroke="#000" stroke-width="0.8"/>
<line x1="223.4" y1="82.90" x2="225.6" y2="82.90" stroke="#000" stroke-width="0.8"/>
<line x1="365.4" y1="82.90" x2="363.2" y2="82.90" stroke="#000" stroke-width="0.8"/>
<line x1="223.4" y1="72.40" x2="225.6" y2="72.40" stroke="#000" stroke-width="0.8"/>
<line x1="365.4" y1="72.40" x2="363.2" y2="72.40" stroke="#000" stroke-width="0.8"/>
<rect x="223.4" y="62.1" width="142.00" height="75.20" fill="none" stroke="#333" stroke-width="0.95"/>
<line x1="233.00" y1="251.4" x2="233.00" y2="246.8" stroke="#000" stroke-width="0.8"/>
<line x1="233.00" y1="175.35" x2="233.00" y2="179.95" stroke="#000" stroke-width="0.8"/>
<line x1="242.45" y1="251.4" x2="242.45" y2="249.20000000000002" stroke="#000" stroke-width="0.8"/>
<line x1="242.45" y1="175.35" x2="242.45" y2="177.54999999999998" stroke="#000" stroke-width="0.8"/>
<line x1="251.90" y1="251.4" x2="251.90" y2="249.20000000000002" stroke="#000" stroke-width="0.8"/>
<line x1="251.90" y1="175.35" x2="251.90" y2="177.54999999999998" stroke="#000" stroke-width="0.8"/>
<line x1="261.35" y1="251.4" x2="261.35" y2="249.20000000000002" stroke="#000" stroke-width="0.8"/>
<line x1="261.35" y1="175.35" x2="261.35" y2="177.54999999999998" stroke="#000" stroke-width="0.8"/>
<line x1="270.80" y1="251.4" x2="270.80" y2="249.20000000000002" stroke="#000" stroke-width="0.8"/>
<line x1="270.80" y1="175.35" x2="270.80" y2="177.54999999999998" stroke="#000" stroke-width="0.8"/>
<line x1="280.25" y1="251.4" x2="280.25" y2="246.8" stroke="#000" stroke-width="0.8"/>
<line x1="280.25" y1="175.35" x2="280.25" y2="179.95" stroke="#000" stroke-width="0.8"/>
<line x1="289.70" y1="251.4" x2="289.70" y2="249.20000000000002" stroke="#000" stroke-width="0.8"/>
<line x1="289.70" y1="175.35" x2="289.70" y2="177.54999999999998" stroke="#000" stroke-width="0.8"/>
<line x1="299.15" y1="251.4" x2="299.15" y2="249.20000000000002" stroke="#000" stroke-width="0.8"/>
<line x1="299.15" y1="175.35" x2="299.15" y2="177.54999999999998" stroke="#000" stroke-width="0.8"/>
<line x1="308.60" y1="251.4" x2="308.60" y2="249.20000000000002" stroke="#000" stroke-width="0.8"/>
<line x1="308.60" y1="175.35" x2="308.60" y2="177.54999999999998" stroke="#000" stroke-width="0.8"/>
<line x1="318.05" y1="251.4" x2="318.05" y2="249.20000000000002" stroke="#000" stroke-width="0.8"/>
<line x1="318.05" y1="175.35" x2="318.05" y2="177.54999999999998" stroke="#000" stroke-width="0.8"/>
<line x1="327.50" y1="251.4" x2="327.50" y2="246.8" stroke="#000" stroke-width="0.8"/>
<line x1="327.50" y1="175.35" x2="327.50" y2="179.95" stroke="#000" stroke-width="0.8"/>
<line x1="336.95" y1="251.4" x2="336.95" y2="249.20000000000002" stroke="#000" stroke-width="0.8"/>
<line x1="336.95" y1="175.35" x2="336.95" y2="177.54999999999998" stroke="#000" stroke-width="0.8"/>
<line x1="346.40" y1="251.4" x2="346.40" y2="249.20000000000002" stroke="#000" stroke-width="0.8"/>
<line x1="346.40" y1="175.35" x2="346.40" y2="177.54999999999998" stroke="#000" stroke-width="0.8"/>
<line x1="355.85" y1="251.4" x2="355.85" y2="249.20000000000002" stroke="#000" stroke-width="0.8"/>
<line x1="355.85" y1="175.35" x2="355.85" y2="177.54999999999998" stroke="#000" stroke-width="0.8"/>
<line x1="223.4" y1="241.81" x2="225.6" y2="241.81" stroke="#000" stroke-width="0.8"/>
<line x1="365.4" y1="241.81" x2="363.2" y2="241.81" stroke="#000" stroke-width="0.8"/>
<line x1="223.4" y1="232.32" x2="225.6" y2="232.32" stroke="#000" stroke-width="0.8"/>
<line x1="365.4" y1="232.32" x2="363.2" y2="232.32" stroke="#000" stroke-width="0.8"/>
<line x1="223.4" y1="222.84" x2="225.6" y2="222.84" stroke="#000" stroke-width="0.8"/>
<line x1="365.4" y1="222.84" x2="363.2" y2="222.84" stroke="#000" stroke-width="0.8"/>
<line x1="223.4" y1="213.35" x2="227.8" y2="213.35" stroke="#000" stroke-width="0.8"/>
<line x1="365.4" y1="213.35" x2="361.0" y2="213.35" stroke="#000" stroke-width="0.8"/>
<line x1="223.4" y1="203.86" x2="225.6" y2="203.86" stroke="#000" stroke-width="0.8"/>
<line x1="365.4" y1="203.86" x2="363.2" y2="203.86" stroke="#000" stroke-width="0.8"/>
<line x1="223.4" y1="194.38" x2="225.6" y2="194.38" stroke="#000" stroke-width="0.8"/>
<line x1="365.4" y1="194.38" x2="363.2" y2="194.38" stroke="#000" stroke-width="0.8"/>
<line x1="223.4" y1="184.89" x2="225.6" y2="184.89" stroke="#000" stroke-width="0.8"/>
<line x1="365.4" y1="184.89" x2="363.2" y2="184.89" stroke="#000" stroke-width="0.8"/>
<rect x="223.4" y="175.35" width="142.00" height="76.05" fill="none" stroke="#333" stroke-width="0.95"/>
<line x1="412.80" y1="137.3" x2="412.80" y2="132.70000000000002" stroke="#000" stroke-width="0.8"/>
<line x1="412.80" y1="62.1" x2="412.80" y2="66.7" stroke="#000" stroke-width="0.8"/>
<line x1="429.52" y1="137.3" x2="429.52" y2="135.10000000000002" stroke="#000" stroke-width="0.8"/>
<line x1="429.52" y1="62.1" x2="429.52" y2="64.3" stroke="#000" stroke-width="0.8"/>
<line x1="446.24" y1="137.3" x2="446.24" y2="135.10000000000002" stroke="#000" stroke-width="0.8"/>
<line x1="446.24" y1="62.1" x2="446.24" y2="64.3" stroke="#000" stroke-width="0.8"/>
<line x1="462.96" y1="137.3" x2="462.96" y2="135.10000000000002" stroke="#000" stroke-width="0.8"/>
<line x1="462.96" y1="62.1" x2="462.96" y2="64.3" stroke="#000" stroke-width="0.8"/>
<line x1="479.68" y1="137.3" x2="479.68" y2="135.10000000000002" stroke="#000" stroke-width="0.8"/>
<line x1="479.68" y1="62.1" x2="479.68" y2="64.3" stroke="#000" stroke-width="0.8"/>
<line x1="496.40" y1="137.3" x2="496.40" y2="132.70000000000002" stroke="#000" stroke-width="0.8"/>
<line x1="496.40" y1="62.1" x2="496.40" y2="66.7" stroke="#000" stroke-width="0.8"/>
<line x1="513.12" y1="137.3" x2="513.12" y2="135.10000000000002" stroke="#000" stroke-width="0.8"/>
<line x1="513.12" y1="62.1" x2="513.12" y2="64.3" stroke="#000" stroke-width="0.8"/>
<line x1="529.84" y1="137.3" x2="529.84" y2="135.10000000000002" stroke="#000" stroke-width="0.8"/>
<line x1="529.84" y1="62.1" x2="529.84" y2="64.3" stroke="#000" stroke-width="0.8"/>
<line x1="404.4" y1="135.40" x2="408.79999999999995" y2="135.40" stroke="#000" stroke-width="0.8"/>
<line x1="546.4" y1="135.40" x2="542.0" y2="135.40" stroke="#000" stroke-width="0.8"/>
<line x1="404.4" y1="124.90" x2="406.59999999999997" y2="124.90" stroke="#000" stroke-width="0.8"/>
<line x1="546.4" y1="124.90" x2="544.1999999999999" y2="124.90" stroke="#000" stroke-width="0.8"/>
<line x1="404.4" y1="114.40" x2="406.59999999999997" y2="114.40" stroke="#000" stroke-width="0.8"/>
<line x1="546.4" y1="114.40" x2="544.1999999999999" y2="114.40" stroke="#000" stroke-width="0.8"/>
<line x1="404.4" y1="103.90" x2="406.59999999999997" y2="103.90" stroke="#000" stroke-width="0.8"/>
<line x1="546.4" y1="103.90" x2="544.1999999999999" y2="103.90" stroke="#000" stroke-width="0.8"/>
<line x1="404.4" y1="93.40" x2="408.79999999999995" y2="93.40" stroke="#000" stroke-width="0.8"/>
<line x1="546.4" y1="93.40" x2="542.0" y2="93.40" stroke="#000" stroke-width="0.8"/>
<line x1="404.4" y1="82.90" x2="406.59999999999997" y2="82.90" stroke="#000" stroke-width="0.8"/>
<line x1="546.4" y1="82.90" x2="544.1999999999999" y2="82.90" stroke="#000" stroke-width="0.8"/>
<line x1="404.4" y1="72.40" x2="406.59999999999997" y2="72.40" stroke="#000" stroke-width="0.8"/>
<line x1="546.4" y1="72.40" x2="544.1999999999999" y2="72.40" stroke="#000" stroke-width="0.8"/>
<rect x="404.4" y="62.1" width="142.00" height="75.20" fill="none" stroke="#333" stroke-width="0.95"/>
<line x1="412.80" y1="251.4" x2="412.80" y2="246.8" stroke="#000" stroke-width="0.8"/>
<line x1="412.80" y1="175.35" x2="412.80" y2="179.95" stroke="#000" stroke-width="0.8"/>
<line x1="429.52" y1="251.4" x2="429.52" y2="249.20000000000002" stroke="#000" stroke-width="0.8"/>
<line x1="429.52" y1="175.35" x2="429.52" y2="177.54999999999998" stroke="#000" stroke-width="0.8"/>
<line x1="446.24" y1="251.4" x2="446.24" y2="249.20000000000002" stroke="#000" stroke-width="0.8"/>
<line x1="446.24" y1="175.35" x2="446.24" y2="177.54999999999998" stroke="#000" stroke-width="0.8"/>
<line x1="462.96" y1="251.4" x2="462.96" y2="249.20000000000002" stroke="#000" stroke-width="0.8"/>
<line x1="462.96" y1="175.35" x2="462.96" y2="177.54999999999998" stroke="#000" stroke-width="0.8"/>
<line x1="479.68" y1="251.4" x2="479.68" y2="249.20000000000002" stroke="#000" stroke-width="0.8"/>
<line x1="479.68" y1="175.35" x2="479.68" y2="177.54999999999998" stroke="#000" stroke-width="0.8"/>
<line x1="496.40" y1="251.4" x2="496.40" y2="246.8" stroke="#000" stroke-width="0.8"/>
<line x1="496.40" y1="175.35" x2="496.40" y2="179.95" stroke="#000" stroke-width="0.8"/>
<line x1="513.12" y1="251.4" x2="513.12" y2="249.20000000000002" stroke="#000" stroke-width="0.8"/>
<line x1="513.12" y1="175.35" x2="513.12" y2="177.54999999999998" stroke="#000" stroke-width="0.8"/>
<line x1="529.84" y1="251.4" x2="529.84" y2="249.20000000000002" stroke="#000" stroke-width="0.8"/>
<line x1="529.84" y1="175.35" x2="529.84" y2="177.54999999999998" stroke="#000" stroke-width="0.8"/>
<line x1="404.4" y1="241.81" x2="406.59999999999997" y2="241.81" stroke="#000" stroke-width="0.8"/>
<line x1="546.4" y1="241.81" x2="544.1999999999999" y2="241.81" stroke="#000" stroke-width="0.8"/>
<line x1="404.4" y1="232.32" x2="406.59999999999997" y2="232.32" stroke="#000" stroke-width="0.8"/>
<line x1="546.4" y1="232.32" x2="544.1999999999999" y2="232.32" stroke="#000" stroke-width="0.8"/>
<line x1="404.4" y1="222.84" x2="406.59999999999997" y2="222.84" stroke="#000" stroke-width="0.8"/>
<line x1="546.4" y1="222.84" x2="544.1999999999999" y2="222.84" stroke="#000" stroke-width="0.8"/>
<line x1="404.4" y1="213.35" x2="408.79999999999995" y2="213.35" stroke="#000" stroke-width="0.8"/>
<line x1="546.4" y1="213.35" x2="542.0" y2="213.35" stroke="#000" stroke-width="0.8"/>
<line x1="404.4" y1="203.86" x2="406.59999999999997" y2="203.86" stroke="#000" stroke-width="0.8"/>
<line x1="546.4" y1="203.86" x2="544.1999999999999" y2="203.86" stroke="#000" stroke-width="0.8"/>
<line x1="404.4" y1="194.38" x2="406.59999999999997" y2="194.38" stroke="#000" stroke-width="0.8"/>
<line x1="546.4" y1="194.38" x2="544.1999999999999" y2="194.38" stroke="#000" stroke-width="0.8"/>
<line x1="404.4" y1="184.89" x2="406.59999999999997" y2="184.89" stroke="#000" stroke-width="0.8"/>
<line x1="546.4" y1="184.89" x2="544.1999999999999" y2="184.89" stroke="#000" stroke-width="0.8"/>
<rect x="404.4" y="175.35" width="142.00" height="76.05" fill="none" stroke="#333" stroke-width="0.95"/>
<text x="181.3" y="13.1" font-size="17.4" textLength="241.4" lengthAdjust="spacing">Approaching Touch Target when</text>
<text x="427.6" y="13.1" font-size="18" font-style="italic" textLength="9" lengthAdjust="spacingAndGlyphs">b</text>
<line x1="440.5" y1="7.7" x2="452.2" y2="7.7" stroke="#000" stroke-width="0.85"/>
<line x1="440.5" y1="10.9" x2="452.2" y2="10.9" stroke="#000" stroke-width="0.85"/>
<text x="457.6" y="13.1" font-size="17" text-anchor="start" textLength="53.4" lengthAdjust="spacing" >0.5, 1, 2</text>
<text x="87.2" y="53.5" font-size="18.5" font-style="italic" textLength="8.5" lengthAdjust="spacingAndGlyphs">b</text>
<line x1="100.1" y1="47.4" x2="111.6" y2="47.4" stroke="#000" stroke-width="0.85"/>
<line x1="100.1" y1="50.7" x2="111.6" y2="50.7" stroke="#000" stroke-width="0.85"/>
<text x="117.1" y="53.6" font-size="17" text-anchor="start" textLength="21.6" lengthAdjust="spacing" >0.5</text>
<text x="268.2" y="53.5" font-size="18.5" font-style="italic" textLength="8.5" lengthAdjust="spacingAndGlyphs">b</text>
<line x1="281.09999999999997" y1="47.4" x2="292.59999999999997" y2="47.4" stroke="#000" stroke-width="0.85"/>
<line x1="281.09999999999997" y1="50.7" x2="292.59999999999997" y2="50.7" stroke="#000" stroke-width="0.85"/>
<text x="298.09999999999997" y="53.6" font-size="17" text-anchor="start" textLength="21.6" lengthAdjust="spacing" >1.0</text>
<text x="449.2" y="53.5" font-size="18.5" font-style="italic" textLength="8.5" lengthAdjust="spacingAndGlyphs">b</text>
<line x1="462.1" y1="47.4" x2="473.6" y2="47.4" stroke="#000" stroke-width="0.85"/>
<line x1="462.1" y1="50.7" x2="473.6" y2="50.7" stroke="#000" stroke-width="0.85"/>
<text x="479.1" y="53.6" font-size="17" text-anchor="start" textLength="21.6" lengthAdjust="spacing" >2.0</text>
<text x="36.6" y="99.0" font-size="15" text-anchor="end" >2</text>
<text x="36.6" y="141.0" font-size="15" text-anchor="end" >0</text>
<text x="36.6" y="180.99999999999997" font-size="15" text-anchor="end" >2</text>
<text x="36.6" y="218.95" font-size="15" text-anchor="end" >0</text>
<text x="36.6" y="256.90000000000003" font-size="15" text-anchor="end" >2</text>
<line x1="19.299999999999997" y1="252.3" x2="27.599999999999998" y2="252.3" stroke="#000" stroke-width="0.85"/>
<text x="217.6" y="99.0" font-size="15" text-anchor="end" >2</text>
<text x="217.6" y="141.0" font-size="15" text-anchor="end" >0</text>
<text x="217.6" y="180.99999999999997" font-size="15" text-anchor="end" >2</text>
<text x="217.6" y="218.95" font-size="15" text-anchor="end" >0</text>
<text x="217.6" y="256.90000000000003" font-size="15" text-anchor="end" >2</text>
<line x1="200.3" y1="252.3" x2="208.6" y2="252.3" stroke="#000" stroke-width="0.85"/>
<text x="398.59999999999997" y="99.0" font-size="15" text-anchor="end" >2</text>
<text x="398.59999999999997" y="141.0" font-size="15" text-anchor="end" >0</text>
<text x="398.59999999999997" y="180.99999999999997" font-size="15" text-anchor="end" >2</text>
<text x="398.59999999999997" y="218.95" font-size="15" text-anchor="end" >0</text>
<text x="398.59999999999997" y="256.90000000000003" font-size="15" text-anchor="end" >2</text>
<line x1="381.29999999999995" y1="252.3" x2="389.59999999999997" y2="252.3" stroke="#000" stroke-width="0.85"/>
<text x="52.5" y="152.6" font-size="15" text-anchor="middle" >0</text>
<text x="52.5" y="266.9" font-size="15" text-anchor="middle" >0</text>
<text x="103.3" y="152.6" font-size="15" text-anchor="middle" >10</text>
<text x="103.3" y="266.9" font-size="15" text-anchor="middle" >10</text>
<text x="154.1" y="152.6" font-size="15" text-anchor="middle" >20</text>
<text x="154.1" y="266.9" font-size="15" text-anchor="middle" >20</text>
<text x="233.0" y="152.6" font-size="15" text-anchor="middle" >0</text>
<text x="233.0" y="266.9" font-size="15" text-anchor="middle" >0</text>
<text x="280.25" y="152.6" font-size="15" text-anchor="middle" >5</text>
<text x="280.25" y="266.9" font-size="15" text-anchor="middle" >5</text>
<text x="327.5" y="152.6" font-size="15" text-anchor="middle" >10</text>
<text x="327.5" y="266.9" font-size="15" text-anchor="middle" >10</text>
<text x="412.8" y="152.6" font-size="15" text-anchor="middle" >0</text>
<text x="412.8" y="266.9" font-size="15" text-anchor="middle" >0</text>
<text x="496.4" y="152.6" font-size="15" text-anchor="middle" >5</text>
<text x="496.4" y="266.9" font-size="15" text-anchor="middle" >5</text>
<text x="79.9" y="285.5" font-size="15" text-anchor="start" >t</text>
<text x="90.30000000000001" y="285.5" font-size="15" text-anchor="start" textLength="55.8" lengthAdjust="spacing" >(seconds)</text>
<text x="260.9" y="285.5" font-size="15" text-anchor="start" >t</text>
<text x="271.29999999999995" y="285.5" font-size="15" text-anchor="start" textLength="55.8" lengthAdjust="spacing" >(seconds)</text>
<text x="441.9" y="285.5" font-size="15" text-anchor="start" >t</text>
<text x="452.29999999999995" y="285.5" font-size="15" text-anchor="start" textLength="55.8" lengthAdjust="spacing" >(seconds)</text>
<text transform="translate(11,126.9) rotate(-90)" font-size="15" textLength="55.6" lengthAdjust="spacing">Distance</text>
<text transform="translate(11,237.8) rotate(-90)" font-size="15" textLength="49.6" lengthAdjust="spacing">Control</text>
<line x1="557.3" y1="80.5" x2="587.2" y2="80.5" stroke="#0000ff" stroke-width="1.5"/>
<line x1="557.3" y1="102.2" x2="587.2" y2="102.2" stroke="#289628" stroke-width="1.5"/>
<line x1="557.3" y1="123.6" x2="587.2" y2="123.6" stroke="#ff0000" stroke-width="1.5"/>
<line x1="557.3" y1="237.4" x2="587.2" y2="237.4" stroke="#ff0000" stroke-width="1.5"/>
<text x="598.0" y="85.6" font-size="15" font-style="italic" textLength="7.0" lengthAdjust="spacingAndGlyphs">z</text>
<text x="610.9" y="85.6" font-size="15" text-anchor="start" textLength="50.6" lengthAdjust="spacing" >(meters)</text>
<text x="598.0" y="107.0" font-size="15" font-style="italic" textLength="7.0" lengthAdjust="spacingAndGlyphs">z</text>
<text x="605.0" y="109.5" font-size="10.5" font-style="italic" style="stroke:none">t</text>
<text x="615.0" y="107.4" font-size="15" text-anchor="start" textLength="68.8" lengthAdjust="spacing" >(embodied)</text>
<text x="598.2" y="129.1" font-size="15" font-style="italic" textLength="7.0" lengthAdjust="spacingAndGlyphs">ẑ</text>
<text x="610.1" y="129.1" font-size="15" text-anchor="start" textLength="70.0" lengthAdjust="spacing" >(embodied)</text>
<text x="597.8" y="243.2" font-size="15" font-style="italic" textLength="8.2" lengthAdjust="spacingAndGlyphs">u</text>
<text x="611.0" y="243.3" font-size="15" text-anchor="start" textLength="70.4" lengthAdjust="spacing" >(embodied)</text>
</svg></body></html>
